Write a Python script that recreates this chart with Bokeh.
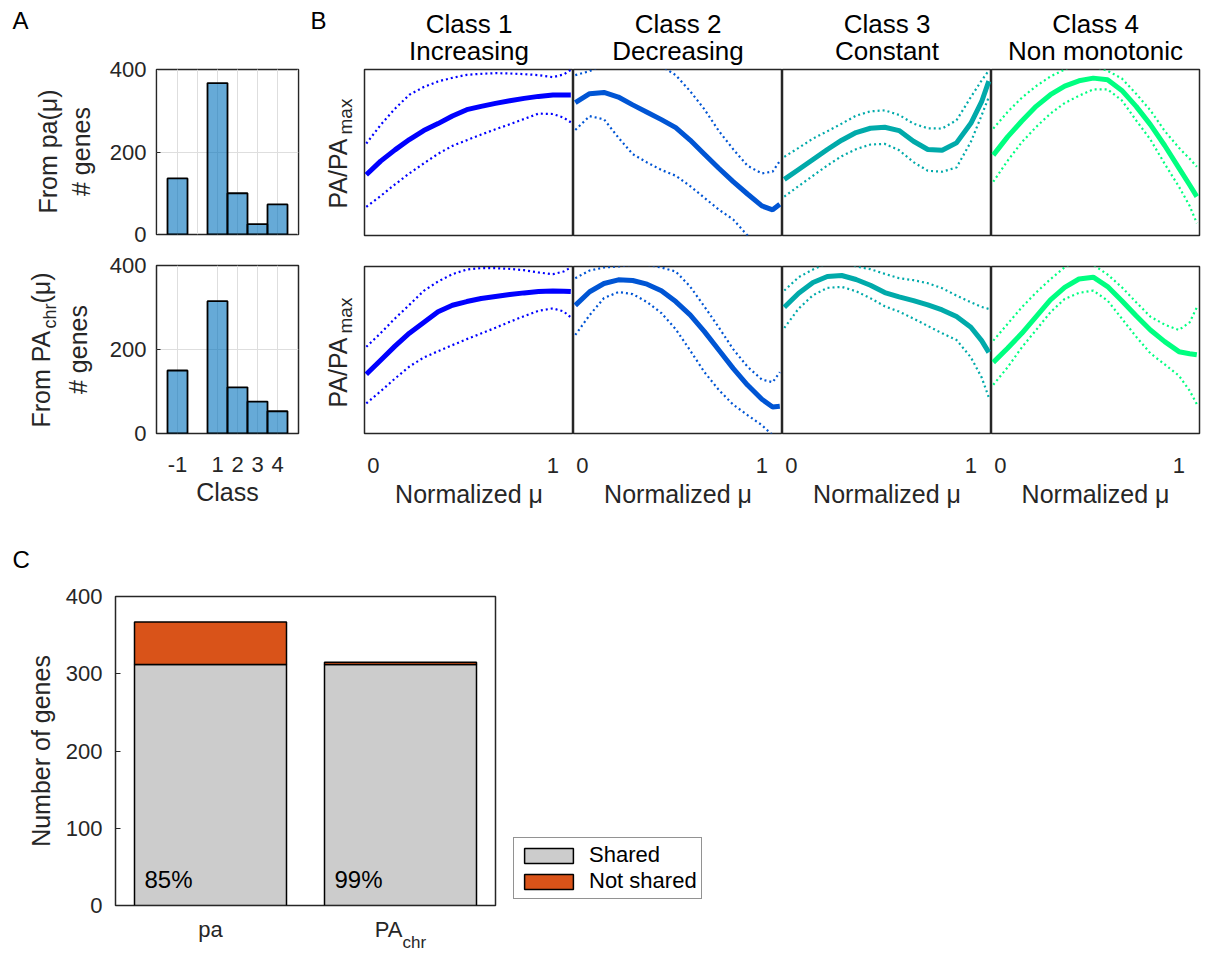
import math

from bokeh.embed import file_html
from bokeh.layouts import column, row
from bokeh.models import FixedTicker, Grid, Label, Legend, LegendItem, Range1d
from bokeh.plotting import figure
from bokeh.resources import INLINE

FONT = "Liberation Sans"
INK = "#262626"
UP = math.pi / 2
# Bokeh puts an "alphabetic" anchor about 0.38 em above the drawn baseline
BASELINE_SHIFT = 0.38

# ---------------------------------------------------------------- panel A data
class_ids = [-1, 1, 2, 3, 4]
genes_from_pa = [136, 367, 100, 25, 73]
genes_from_pachr = [150, 315, 110, 76, 53]

# ---------------------------------------------------------------- panel B data
class_titles = [("Class 1", "Increasing"), ("Class 2", "Decreasing"),
                ("Class 3", "Constant"), ("Class 4", "Non monotonic")]
class_colors = ["#0000FF", "#0055D4", "#00AAAA", "#00FF80"]

mu_norm = [-0.04, 0.04, 0.12, 0.20, 0.28, 0.36, 0.44, 0.52,
           0.60, 0.68, 0.76, 0.84, 0.92, 1.00, 1.06, 1.10]

# profiles from pa(mu): mean and upper / lower envelopes
c1_pa_mean = [.366, .448, .516, .578, .632, .674, .720, .758, .778, .796, .812, .826, .838, .846, .846, .846]
c1_pa_upper = [.554, .666, .764, .848, .894, .928, .950, .968, .974, .978, .976, .972, .966, .954, .970, .998]
c1_pa_lower = [.172, .238, .308, .374, .434, .492, .540, .574, .608, .640, .670, .702, .734, .732, .710, .682]

c2_pa_mean = [.800, .854, .862, .834, .787, .743, .698, .650, .575, .490, .405, .325, .250, .178, .155, .188]
c2_pa_upper = [.966, .990, 1.03, 1.06, 1.07, 1.06, 1.02, .966, .870, .760, .630, .520, .420, .374, .385, .449]
c2_pa_lower = [.636, .719, .700, .590, .490, .440, .395, .360, .298, .227, .156, .097, .000, -.10, -.18, -.22]

c3_pa_mean = [.338, .398, .458, .518, .574, .620, .646, .652, .632, .568, .518, .514, .558, .676, .806, .930]
c3_pa_upper = [.474, .528, .584, .628, .674, .722, .748, .754, .726, .674, .646, .644, .694, .834, .934, .994]
c3_pa_lower = [.234, .298, .360, .422, .478, .520, .548, .552, .514, .442, .390, .384, .410, .564, .724, .834]

c4_pa_mean = [.484, .594, .690, .778, .848, .900, .932, .948, .938, .874, .778, .668, .542, .406, .304, .234]
c4_pa_upper = [.644, .744, .830, .900, .958, 1.00, 1.04, 1.02, .992, .946, .854, .754, .630, .528, .462, .414]
c4_pa_lower = [.324, .450, .562, .654, .734, .798, .842, .880, .880, .814, .694, .578, .432, .294, .178, .074]

# profiles from PA_chr(mu)
c1_chr_mean = [.355, .439, .523, .601, .665, .729, .768, .790, .808, .820, .832, .842, .850, .854, .852, .850]
c1_chr_upper = [.519, .601, .689, .770, .854, .910, .954, .982, .990, .990, .986, .978, .964, .954, .970, .994]
c1_chr_lower = [.180, .253, .329, .401, .455, .493, .529, .565, .599, .633, .669, .703, .735, .749, .731, .695]

c2_chr_mean = [.767, .849, .898, .920, .916, .894, .855, .790, .710, .610, .500, .390, .290, .205, .159, .163]
c2_chr_upper = [.930, .976, .994, 1.00, 1.01, 1.01, .994, .970, .880, .760, .635, .505, .400, .323, .307, .367]
c2_chr_lower = [.590, .709, .811, .847, .835, .787, .721, .624, .498, .367, .261, .173, .110, .050, -.01, -.05]

c3_chr_mean = [.756, .840, .904, .940, .946, .922, .888, .844, .818, .796, .770, .740, .700, .636, .556, .486]
c3_chr_upper = [.856, .936, .982, 1.02, 1.04, 1.00, .984, .956, .930, .918, .900, .870, .826, .786, .758, .746]
c3_chr_lower = [.632, .748, .828, .872, .878, .852, .810, .762, .730, .688, .644, .600, .560, .456, .336, .216]

c4_chr_mean = [.426, .510, .600, .700, .800, .875, .925, .936, .880, .795, .705, .620, .550, .490, .478, .472]
c4_chr_upper = [.556, .656, .756, .844, .924, .996, 1.04, 1.01, .952, .876, .786, .700, .652, .620, .666, .756]
c4_chr_lower = [.292, .396, .516, .620, .726, .806, .842, .856, .796, .688, .580, .480, .414, .346, .256, .176]

pa_profiles = [(c1_pa_mean, c1_pa_upper, c1_pa_lower), (c2_pa_mean, c2_pa_upper, c2_pa_lower),
               (c3_pa_mean, c3_pa_upper, c3_pa_lower), (c4_pa_mean, c4_pa_upper, c4_pa_lower)]
chr_profiles = [(c1_chr_mean, c1_chr_upper, c1_chr_lower), (c2_chr_mean, c2_chr_upper, c2_chr_lower),
                (c3_chr_mean, c3_chr_upper, c3_chr_lower), (c4_chr_mean, c4_chr_upper, c4_chr_lower)]

# ---------------------------------------------------------------- panel C data
sources = [1, 2]  # pa, PA_chr
shared_genes = [312, 312]
not_shared_genes = [55, 3]
total_genes = [s + n for s, n in zip(shared_genes, not_shared_genes)]


def style_axis(ax, tick_size="22px"):
    ax.major_label_text_font = FONT
    ax.major_label_text_font_size = tick_size
    ax.major_label_text_color = INK
    ax.axis_label_text_font = FONT
    ax.axis_label_text_font_size = "25px"
    ax.axis_label_text_font_style = "normal"
    ax.axis_label_text_color = INK
    ax.axis_line_color = None
    ax.minor_tick_line_color = None


def strip(width, height, top=0, bottom=0, x_range=None, left=0, right=0):
    """Text-only canvas; its borders match the neighbouring plots so rows stay aligned."""
    p = figure(width=width, height=height,
               x_range=x_range if x_range is not None else Range1d(0, width),
               y_range=Range1d(0, height - top - bottom), output_backend="svg", toolbar_location=None,
               x_axis_location=None, y_axis_location=None,
               min_border_left=left, min_border_right=right, min_border_top=top, min_border_bottom=bottom)
    p.outline_line_color = None
    p.grid.visible = False
    p.tags = [bottom]
    return p


def put(p, x, y_down, s, size, align="center", angle=0.0, color=INK, dx=0):
    """Text whose baseline sits at x / y_down (pixels below the strip's top edge)."""
    shift = BASELINE_SHIFT * size
    if angle == 0.0:
        y_down -= shift
    else:
        x -= shift
    p.add_layout(Label(x=x, y=p.height - p.tags[0] - y_down, x_offset=dx, text=s, angle=angle,
                       text_font=FONT, text_font_size=f"{size}px", text_color=color,
                       text_align=align, text_baseline="alphabetic"))


def class_hist(counts, height, top, bottom, with_x):
    p = figure(width=205, height=height, x_range=Range1d(-2.05, 5.05), y_range=Range1d(0, 400),
               output_backend="svg", toolbar_location=None,
               x_axis_location="below" if with_x else None,
               min_border_left=56, min_border_right=7, min_border_top=top, min_border_bottom=bottom)
    p.outline_line_color = INK
    p.outline_line_width = 1.5
    p.yaxis.ticker = FixedTicker(ticks=[0, 200, 400])
    style_axis(p.yaxis)
    p.yaxis.major_tick_in = 4
    p.yaxis.major_tick_out = 0
    p.yaxis.major_tick_line_color = INK
    p.yaxis.major_label_standoff = 10
    if with_x:
        p.xaxis.ticker = FixedTicker(ticks=class_ids)
        p.xaxis.major_label_overrides = {-1: "-1"}
        style_axis(p.xaxis)
        p.xaxis.major_tick_line_color = None
        p.xaxis.major_label_standoff = 17
        p.xaxis.axis_label = "Class"
        p.xaxis.axis_label_standoff = 3
    else:
        p.add_layout(Grid(dimension=0, ticker=FixedTicker(ticks=class_ids)))
    p.grid.grid_line_color = "#dedede"
    p.grid.grid_line_width = 1
    p.vbar(x=class_ids, top=counts, bottom=0, width=1.0, fill_color="#0072BD", fill_alpha=0.6,
           line_color="black", line_width=1.8)
    return p


def profile_panel(k, prof, width, left, right, height, top, bottom, bottom_row):
    p = figure(width=width, height=height, x_range=Range1d(-0.05, 1.115), y_range=Range1d(0, 1),
               output_backend="svg", toolbar_location=None, y_axis_location=None,
               x_axis_location="below" if bottom_row else None,
               min_border_left=left, min_border_right=right, min_border_top=top, min_border_bottom=bottom)
    p.outline_line_color = INK
    p.outline_line_width = 1.5
    p.grid.visible = False
    mean, upper, lower = prof
    color = class_colors[k]
    p.line(mu_norm, upper, line_color=color, line_width=2.2, line_dash="2 3")
    p.line(mu_norm, lower, line_color=color, line_width=2.2, line_dash="2 3")
    p.line(mu_norm, mean, line_color=color, line_width=5)
    if bottom_row:
        p.xaxis.ticker = FixedTicker(ticks=[0, 1])
        style_axis(p.xaxis)
        p.xaxis.major_tick_line_color = None
        p.xaxis.major_label_standoff = 18
        p.xaxis.axis_label = "Normalized μ"
        p.xaxis.axis_label_standoff = 4
    return p


# ---------------------------------------------------------------- panel A
headA = strip(305, 55)
put(headA, 12, 29, "A", 24, align="left", color="black")

labA1 = strip(100, 195, top=14, bottom=16)
put(labA1, 57, 96, "From pa(μ)", 25, angle=UP)
put(labA1, 90, 96, "# genes", 25, angle=UP)
fA1 = class_hist(genes_from_pa, 195, 14, 16, False)

labA2 = strip(100, 270, top=15, bottom=87)
put(labA2, 50, 177, "From PA", 25, align="left", angle=UP)
put(labA2, 56, 78, "chr", 18, align="left", angle=UP)
put(labA2, 50, 53, "(μ)", 25, align="left", angle=UP)
put(labA2, 87, 99, "# genes", 25, angle=UP)
fA2 = class_hist(genes_from_pachr, 270, 15, 87, True)

col_A = column(headA, row(labA1, fA1), row(labA2, fA2))

# ---------------------------------------------------------------- panel B
headB = strip(900, 67)
put(headB, 5, 29, "B", 24, align="left", color="black")
title_centers = [163.5, 372.5, 581.5, 790]
for (line1, line2), cx in zip(class_titles, title_centers):
    put(headB, cx, 33, line1, 26, color="black")
    put(headB, cx, 60, line2, 26, color="black")

labB1 = strip(57, 183, top=2, bottom=15)
put(labB1, 42, 141, "PA/PA", 25, align="left", angle=UP)
put(labB1, 47, 67, "max", 19, align="left", angle=UP)
labB2 = strip(57, 270, top=16, bottom=87)
put(labB2, 42, 157, "PA/PA", 25, align="left", angle=UP)
put(labB2, 47, 83, "max", 19, align="left", angle=UP)

col_sizes = [(211, 2, 0), (209, 0, 0), (209, 0, 0), (214, 0, 6)]
top_row, bottom_row = [labB1], [labB2]
for k in range(4):
    w, l, r = col_sizes[k]
    top_row.append(profile_panel(k, pa_profiles[k], w, l, r, 183, 2, 15, False))
    bottom_row.append(profile_panel(k, chr_profiles[k], w, l, r, 270, 16, 87, True))

col_B = column(headB, row(*top_row), row(*bottom_row))

# ---------------------------------------------------------------- panel C
headC = strip(1205, 60)
put(headC, 12, 48, "C", 24, align="left", color="black")

fC = figure(width=1205, height=337, x_range=Range1d(0.5, 2.5), y_range=Range1d(0, 400),
            output_backend="svg", toolbar_location=None, x_axis_location=None,
            min_border_left=115, min_border_right=710, min_border_top=16, min_border_bottom=12)
fC.outline_line_color = INK
fC.outline_line_width = 1.5
fC.grid.visible = False
fC.yaxis.ticker = FixedTicker(ticks=[0, 100, 200, 300, 400])
style_axis(fC.yaxis)
fC.yaxis.major_tick_in = 5
fC.yaxis.major_tick_out = 0
fC.yaxis.major_tick_line_color = INK
fC.yaxis.major_label_standoff = 13
fC.yaxis.axis_label = "Number of genes"
fC.yaxis.axis_label_standoff = 8

bar_w = 0.8
r_shared = fC.vbar(x=sources, bottom=0, top=shared_genes, width=bar_w,
                   fill_color="#CCCCCC", line_color="black", line_width=1.5)
r_not = fC.vbar(x=sources, bottom=shared_genes, top=total_genes, width=bar_w,
                fill_color="#D95319", line_color="black", line_width=1.5)

for xs, s, t in zip(sources, shared_genes, total_genes):
    fC.add_layout(Label(x=xs - bar_w / 2, y=0, x_offset=10, y_offset=17 + BASELINE_SHIFT * 24,
                        text=f"{round(100 * s / t)}%", text_font=FONT, text_font_size="24px",
                        text_color="black", text_align="left", text_baseline="alphabetic"))

legend = Legend(items=[LegendItem(label="Shared", renderers=[r_shared]),
                       LegendItem(label="Not shared", renderers=[r_not])],
                location=(18, 6))
legend.label_text_font = FONT
legend.label_text_font_size = "22px"
legend.label_text_color = "black"
legend.glyph_width = 61
legend.glyph_height = 19
legend.label_height = 20
legend.label_standoff = 10
legend.padding = 4
legend.spacing = 0
legend.margin = 0
legend.border_line_color = INK
legend.border_line_width = 1.2
legend.background_fill_color = "white"
legend.background_fill_alpha = 1
fC.add_layout(legend, "right")

# category names under the bars
footC = strip(1205, 36, x_range=fC.x_range, left=115, right=710)
put(footC, 1, 20, "pa", 22)
put(footC, 2, 20, "PA", 22, align="right", dx=2)
put(footC, 2, 31, "chr", 17, align="left", dx=2)

layout = column(row(col_A, col_B), row(headC), fC, footC)

open("out.html", "w").write(file_html(layout, INLINE))
